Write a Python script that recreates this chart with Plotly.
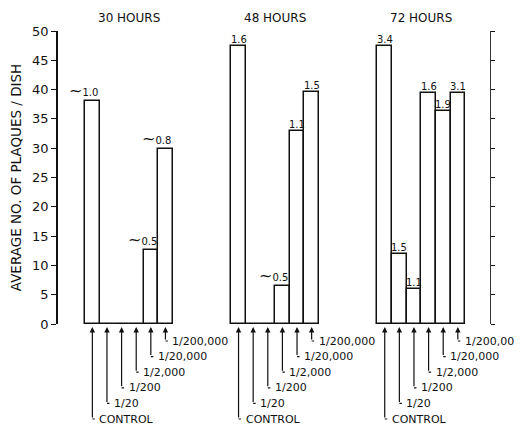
import plotly.graph_objects as go

# ---- data ----
panels = ["30 HOURS", "48 HOURS", "72 HOURS"]
dilutions = ["CONTROL", "1/20", "1/200", "1/2,000", "1/20,000", "1/200,000"]
plaques_30h = [38.1, 0, 0, 0, 12.6, 29.8]
plaques_48h = [47.4, 0, 0, 6.5, 32.9, 39.6]
plaques_72h = [47.5, 11.9, 6.0, 39.5, 36.4, 39.5]
labels_30h = ["~1.0", "", "", "", "~0.5", "~0.8"]
labels_48h = ["1.6", "", "", "~0.5", "1.1", "1.5"]
labels_72h = ["3.4", "1.5", "1.1", "1.6", "1.9", "3.1"]
yticks = list(range(0, 55, 5))

series = [plaques_30h, plaques_48h, plaques_72h]
labels = [labels_30h, labels_48h, labels_72h]

# ---- layout constants ----
STEP = 10           # distance between panel starts, in bar units
FONT = "DejaVu Sans"
INK = "#111111"

fig = go.Figure()
annotations = []
shapes = []

for p, (name, vals, labs) in enumerate(zip(panels, series, labels)):
    xs = [p * STEP + i for i in range(len(dilutions))]
    fig.add_trace(go.Bar(
        x=xs, y=vals, width=1,
        marker=dict(color="white", line=dict(color=INK, width=1.5)),
        showlegend=False, hoverinfo="skip",
    ))
    # baseline of the panel
    shapes.append(dict(type="line", xref="x", yref="y",
                       x0=xs[0] - 0.5, x1=xs[-1] + 0.5, y0=0, y1=0,
                       line=dict(color=INK, width=1.5)))
    # panel title
    annotations.append(dict(x=(xs[0] + xs[-1]) / 2, y=1.0, xref="x", yref="paper",
                            yanchor="bottom", yshift=4, showarrow=False,
                            text=name, font=dict(family=FONT, size=12, color=INK)))
    for i, (x, v, lab) in enumerate(zip(xs, vals, labs)):
        # value labels
        if lab:
            if lab.startswith("~"):
                txt = "<span style='font-size:16px'>~</span>" + lab[1:]
                annotations.append(dict(x=x + 0.55, y=v, xref="x", yref="y",
                                        xanchor="right", yanchor="bottom", yshift=-1,
                                        showarrow=False, text=txt,
                                        font=dict(family=FONT, size=10, color=INK)))
            else:
                annotations.append(dict(x=x, y=v, xref="x", yref="y",
                                        xanchor="center", yanchor="bottom", yshift=-1,
                                        showarrow=False, text=lab,
                                        font=dict(family=FONT, size=10, color=INK)))
        # dilution arrows and staggered labels
        off = 17 + (len(dilutions) - 1 - i) * 15.6
        annotations.append(dict(x=x, y=0, xref="x", yref="y", text="",
                                showarrow=True, ax=0, ay=off, arrowhead=2,
                                arrowsize=0.9, arrowwidth=1.2, arrowcolor=INK,
                                standoff=3))
        annotations.append(dict(x=x, y=0, xref="x", yref="y", text="",
                                yshift=-off, showarrow=True, ax=4, ay=0,
                                arrowhead=0, arrowwidth=1.2, arrowcolor=INK))
        annotations.append(dict(x=x, y=0, xref="x", yref="y", text=dilutions[i],
                                yshift=-off, xshift=5, xanchor="left",
                                yanchor="middle", showarrow=False,
                                font=dict(family=FONT, size=11, color=INK)))

# invisible trace so the right-hand scale axis is drawn
fig.add_trace(go.Scatter(x=[0] * len(yticks), y=yticks, yaxis="y2", mode="markers",
                         marker=dict(size=1, opacity=0), showlegend=False,
                         hoverinfo="skip"))

# the page body adds an 8px offset, so the figure is 8px smaller than the window
fig.update_layout(
    width=514, height=419,
    margin=dict(l=50, r=32, t=23, b=103, autoexpand=False),
    paper_bgcolor="white", plot_bgcolor="white",
    bargap=0,
    xaxis=dict(visible=False, range=[-2.35, 27.2], automargin=False),
    yaxis=dict(range=[0, 50], tickvals=yticks, showgrid=False, zeroline=False,
               automargin=False,
               showline=True, linecolor=INK, linewidth=1.5,
               ticks="outside", ticklen=5, tickwidth=1.2, tickcolor=INK,
               tickfont=dict(family=FONT, size=13, color=INK),
               title=dict(text="AVERAGE NO. OF PLAQUES / DISH", standoff=9,
                          font=dict(family=FONT, size=13.5, color=INK))),
    yaxis2=dict(range=[0, 50], tickvals=yticks, overlaying="y", side="right",
                anchor="x", automargin=False,
                showgrid=False, zeroline=False, showticklabels=False,
                showline=True, linecolor="#333333", linewidth=1,
                ticks="outside", ticklen=4, tickwidth=1.2, tickcolor=INK),
    annotations=annotations,
    shapes=shapes,
)

fig.write_html("out.html")
